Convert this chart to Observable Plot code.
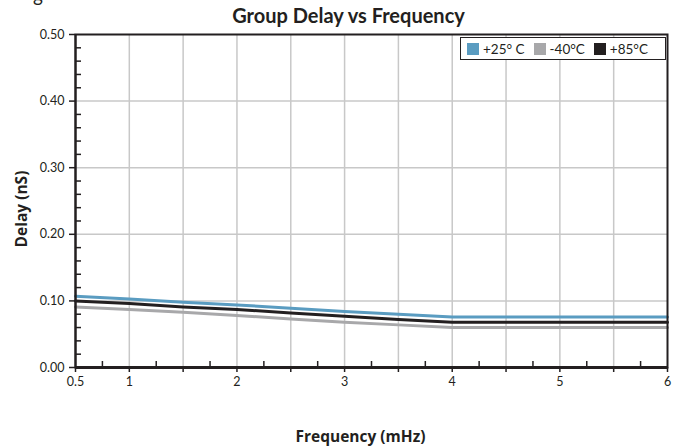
<!DOCTYPE html>
<html>
<head>
<meta charset="utf-8">
<script src="https://cdn.jsdelivr.net/npm/d3@7"></script>
<script src="https://cdn.jsdelivr.net/npm/@observablehq/plot@0.6"></script>
<style>
  body { margin: 0; background: #fff; }
  #wrap { position: relative; width: 685px; height: 446px; overflow: hidden; font-family: Lato, "Open Sans", sans-serif; color: #231f20; }
  #chart { position: absolute; left: 0; top: 0; }
  .frag { position: absolute; left: 33px; top: -17px; font-size: 19px; font-family: Lato, sans-serif; }
  .title { position: absolute; left: 0; width: 697px; top: 3px; text-align: center; font-weight: bold; font-size: 20px; }
  .xlab { position: absolute; left: 0; width: 721px; top: 425px; text-align: center; font-weight: bold; font-size: 15.5px; font-family: "Open Sans", sans-serif; }
  .ylab { position: absolute; left: 21px; top: 209px; transform: translate(-50%, -50%) rotate(-90deg); font-weight: bold; font-size: 15.5px; white-space: nowrap; font-family: "Open Sans", sans-serif; }
  .legend { position: absolute; left: 460px; top: 37px; width: 206px; height: 23px; border: 1px solid #231f20; background: #fff; display: flex; align-items: center; font-size: 13.5px; box-sizing: border-box; padding-left: 6px; }
  .legend span.sw { display: inline-block; width: 12px; height: 12px; margin-right: 4px; }
  .legend .item { display: flex; align-items: center; margin-right: 9px; }
</style>
</head>
<body>
<div id="wrap">
  <div id="chart"></div>
  <div class="frag">g</div>
  <div class="title">Group Delay vs Frequency</div>
  <div class="ylab">Delay (nS)</div>
  <div class="xlab">Frequency (mHz)</div>
  <div class="legend" id="legend"></div>
</div>
<script>
// Data
const freq = [0.5, 1, 1.5, 2, 2.5, 3, 3.5, 4, 5, 6];
const delay25 = [0.107, 0.103, 0.098, 0.094, 0.089, 0.084, 0.080, 0.076, 0.076, 0.076];
const delayM40 = [0.091, 0.087, 0.083, 0.078, 0.073, 0.068, 0.064, 0.060, 0.060, 0.060];
const delay85 = [0.100, 0.096, 0.091, 0.087, 0.082, 0.077, 0.072, 0.068, 0.068, 0.068];
const seriesNames = ["+25° C", "-40°C", "+85°C"];
const seriesColors = ["#5a9cc1", "#a8a8aa", "#231f20"];

// Ticks
const xMajor = [0.5, 1, 1.5, 2, 2.5, 3, 3.5, 4, 4.5, 5, 5.5, 6];
const xLabeled = [0.5, 1, 2, 3, 4, 5, 6];
const xMinor = [0.75, 1.25, 1.75, 2.25, 2.75, 3.25, 3.75, 4.25, 4.75, 5.25, 5.75];
const xGrid = [1, 1.5, 2, 2.5, 3, 3.5, 4, 4.5, 5, 5.5];
const yMajor = [0, 0.1, 0.2, 0.3, 0.4, 0.5];
const yMinor = [0.02, 0.04, 0.06, 0.08, 0.12, 0.14, 0.16, 0.18, 0.22, 0.24, 0.26, 0.28, 0.32, 0.34, 0.36, 0.38, 0.42, 0.44, 0.46, 0.48];
const yGrid = [0.1, 0.2, 0.3, 0.4];

const rows = [];
[delay25, delayM40, delay85].forEach((arr, i) => {
  arr.forEach((v, j) => rows.push({series: seriesNames[i], f: freq[j], d: v}));
});

const ink = "#231f20";
const chart = Plot.plot({
  width: 685,
  height: 446,
  marginLeft: 75,
  marginRight: 18,
  marginTop: 34,
  marginBottom: 79,
  style: {fontFamily: "Lato, 'Open Sans', sans-serif", fontSize: "12.5px", color: ink, background: "#fff"},
  x: {domain: [0.5, 6], label: null},
  y: {domain: [0, 0.5], label: null},
  color: {domain: seriesNames, range: seriesColors},
  marks: [
    Plot.gridX(xGrid, {stroke: "#c8c8c8", strokeOpacity: 1, strokeWidth: 1.5}),
    Plot.gridY(yGrid, {stroke: "#c8c8c8", strokeOpacity: 1, strokeWidth: 1.5}),
    Plot.line(rows, {x: "f", y: "d", z: "series", stroke: "series", strokeWidth: 3}),
    Plot.axisX(xMajor, {tickSize: 5, tickPadding: 5, strokeWidth: 1.5, tickFormat: d => xLabeled.includes(d) ? String(d) : "", label: null}),
    Plot.axisX(xMinor, {tickSize: 6, dy: -6, strokeWidth: 1.5, tickFormat: () => "", label: null}),
    Plot.axisY(yMajor, {tickSize: 6, tickPadding: 5, strokeWidth: 1.5, tickFormat: d => d.toFixed(2), label: null}),
    Plot.axisY(yMinor, {tickSize: 6, dx: 6, strokeWidth: 1.5, tickFormat: () => "", label: null}),
    Plot.frame({stroke: ink, strokeWidth: 2}),
    Plot.ruleY([0], {stroke: ink, strokeWidth: 3}),
    Plot.ruleX([0.5], {stroke: ink, strokeWidth: 2})
  ]
});
document.getElementById("chart").appendChild(chart);

const legend = document.getElementById("legend");
seriesNames.forEach((name, i) => {
  const item = document.createElement("div");
  item.className = "item";
  const sw = document.createElement("span");
  sw.className = "sw";
  sw.style.background = seriesColors[i];
  item.appendChild(sw);
  item.appendChild(document.createTextNode(name));
  legend.appendChild(item);
});
</script>
</body>
</html>
